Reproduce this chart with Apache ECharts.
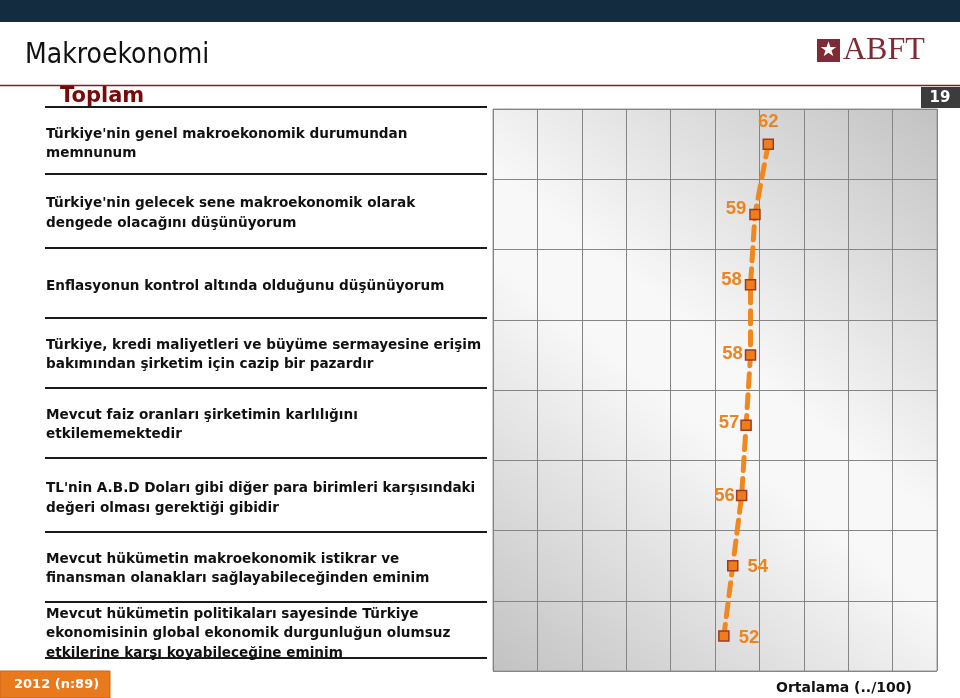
<!DOCTYPE html>
<html><head><meta charset="utf-8">
<script src="https://cdn.jsdelivr.net/npm/echarts@6/dist/echarts.min.js"></script>
<style>html,body{margin:0;padding:0;background:#fff}#c{width:960px;height:698px}</style>
</head><body><div id="c"></div>
<script>
const categories = [
  "Türkiye'nin genel makroekonomik durumundan\nmemnunum",
  "Türkiye'nin gelecek sene makroekonomik olarak\ndengede olacağını düşünüyorum",
  "Enflasyonun kontrol altında olduğunu düşünüyorum",
  "Türkiye, kredi maliyetleri ve büyüme sermayesine erişim\nbakımından şirketim için cazip bir pazardır",
  "Mevcut faiz oranları şirketimin karlılığını\netkilememektedir",
  "TL'nin A.B.D Doları gibi diğer para birimleri karşısındaki\ndeğeri olması gerektiği gibidir",
  "Mevcut hükümetin makroekonomik istikrar ve\nfinansman olanakları sağlayabileceğinden eminim",
  "Mevcut hükümetin politikaları sayesinde Türkiye\nekonomisinin global ekonomik durgunluğun olumsuz\netkilerine karşı koyabileceğine eminim"
];
const values = [62, 59, 58, 58, 57, 56, 54, 52];
const xMin = 0, xMax = 100, xInterval = 10;

// styling only (kept separate from data): vertical nudge of category text, px (+ = down)
const catShift = [0, -1, 2, 0, 0, 3, 3, -2];
const labelPos = ['top', 'left', 'left', 'left', 'left', 'left', 'right', 'right'];
const labelOff = [[0, 0], [0, -5], [0, -5], [0, -1], [0, -2], [0, 1], [0, 1], [0, 2]];
const labelDist = [7, 3, 3, 2, 1, 1, 9, 9];

const chart = echarts.init(document.getElementById('c'), null, {renderer: 'canvas'});

const sepYs = [107, 174, 248, 318, 388, 458, 532, 602, 658];
const graphics = [
  {type: 'rect', shape: {x: 0, y: 0, width: 960, height: 22}, style: {fill: '#132c40'}, z: 1},
  {type: 'text', style: {text: 'Aralık 2012', x: 904, y: 13, align: 'right', verticalAlign: 'middle',
    fill: '#ffffff', font: 'bold 15px "Liberation Sans", Arial, sans-serif'}},
  {type: 'text', style: {text: 'Makroekonomi', x: 25, y: 56, verticalAlign: 'middle',
    fill: '#111111', font: '28px "DejaVu Sans Condensed", "Liberation Sans Narrow", "DejaVu Sans", sans-serif'}},
  {type: 'rect', shape: {x: 817, y: 39, width: 23, height: 23}, style: {fill: '#7d2b35'}},
  {type: 'text', style: {text: '★', x: 828.5, y: 51, align: 'center', verticalAlign: 'middle',
    fill: '#ffffff', font: '20px "DejaVu Sans", sans-serif'}},
  {type: 'text', style: {text: 'ABFT', x: 843, y: 51, verticalAlign: 'middle',
    fill: '#7d2b35', font: '32px "Liberation Serif", serif'}},
  {type: 'line', shape: {x1: 0, y1: 85.5, x2: 960, y2: 85.5}, style: {stroke: '#8b1a1a', lineWidth: 1.5}},
  {type: 'rect', shape: {x: 921, y: 87, width: 39, height: 21}, style: {fill: '#3c3c3c'}},
  {type: 'text', style: {text: '19', x: 940, y: 98, align: 'center', verticalAlign: 'middle',
    fill: '#ffffff', font: 'bold 15px "DejaVu Sans", sans-serif'}},
  {type: 'text', style: {text: 'Toplam', x: 60, y: 97, verticalAlign: 'middle',
    fill: '#7a0a0a', font: 'bold 21px "DejaVu Sans", Verdana, sans-serif',
    shadowColor: 'rgba(0,0,0,0.35)', shadowBlur: 2, shadowOffsetX: 2, shadowOffsetY: 2}},
  {type: 'rect', shape: {x: 0, y: 671, width: 110, height: 27}, style: {fill: '#e8791d', stroke: '#c9641a', lineWidth: 1}},
  {type: 'text', style: {text: '2012 (n:89)', x: 14, y: 685, verticalAlign: 'middle',
    fill: '#ffffff', font: 'bold 13px "DejaVu Sans", Verdana, sans-serif'}},
  {type: 'text', style: {text: 'Ortalama (../100)', x: 776, y: 688, verticalAlign: 'middle',
    fill: '#111111', font: 'bold 14px "DejaVu Sans", Verdana, sans-serif'}}
];
sepYs.forEach(y => graphics.push({type: 'line', shape: {x1: 45, y1: y, x2: 487, y2: y},
  style: {stroke: '#1a1a1a', lineWidth: 2}}));

const rich = {};
for (let k = 1; k <= 6; k++) rich['s' + k] = {fontSize: 1, lineHeight: 2 * k, height: 2 * k};

const option = {
  backgroundColor: '#ffffff',
  animation: false,
  grid: {
    left: 493, top: 109, width: 444, height: 562, show: true,
    backgroundColor: new echarts.graphic.LinearGradient(1, 0, 0, 1, [
      {offset: 0, color: '#c2c2c2'},
      {offset: 0.45, color: '#f8f8f8'},
      {offset: 0.55, color: '#f8f8f8'},
      {offset: 1, color: '#c2c2c2'}
    ]),
    borderColor: '#9a9a9a', borderWidth: 1
  },
  xAxis: {
    type: 'value', min: xMin, max: xMax, interval: xInterval,
    axisLabel: {show: false}, axisLine: {show: false}, axisTick: {show: false},
    splitLine: {show: true, lineStyle: {color: '#858585', width: 1}}
  },
  yAxis: {
    type: 'category', inverse: true, data: categories,
    axisLine: {show: false}, axisTick: {show: false},
    splitLine: {show: true, lineStyle: {color: '#858585', width: 1}},
    axisLabel: {
      align: 'left', margin: 447, color: '#111111',
      fontFamily: '"DejaVu Sans", Verdana, sans-serif', fontWeight: 'bold',
      fontSize: 13.6, lineHeight: 19.2,
      rich: rich,
      formatter: function (v, i) {
        const s = catShift[i];
        if (s > 0) return '{s' + s + '| }\n' + v;
        if (s < 0) return v + '\n{s' + (-s) + '| }';
        return v;
      }
    }
  },
  series: [{
    type: 'line',
    data: values.map((v, i) => ({
      value: v,
      label: {position: labelPos[i], offset: labelOff[i], distance: labelDist[i]}
    })),
    symbol: 'rect', symbolSize: 10,
    itemStyle: {color: '#f07d1a', borderColor: '#9a3b25', borderWidth: 1.5},
    lineStyle: {color: '#f0881e', width: 5, type: [13, 8], cap: 'round'},
    label: {
      show: true, color: '#ec8420',
      fontFamily: '"Liberation Sans", Arial, sans-serif', fontWeight: 'bold', fontSize: 18.5
    },
    z: 5
  }],
  graphic: graphics
};
chart.setOption(option);
</script>
</body></html>
